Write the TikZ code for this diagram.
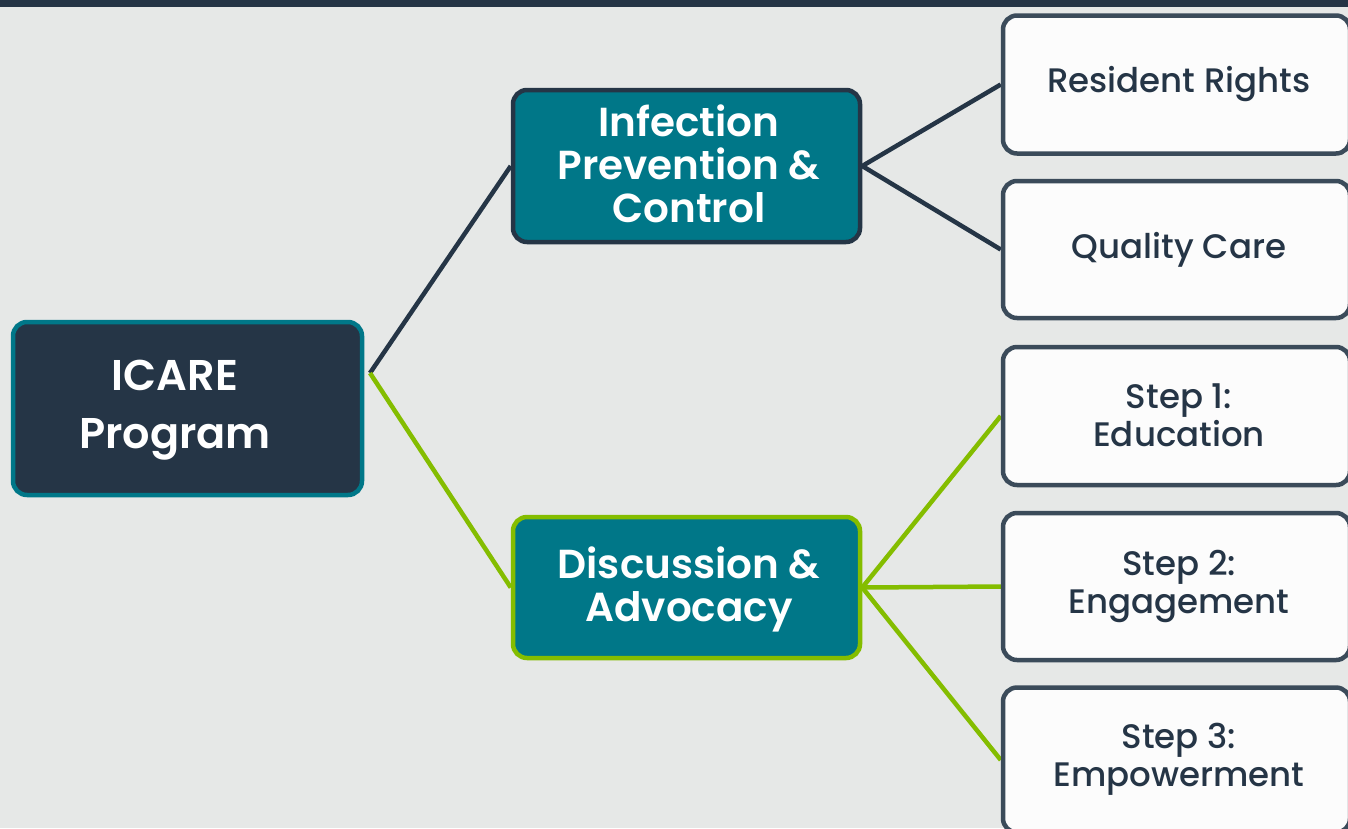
\documentclass[tikz,border=0pt]{standalone}
\usepackage{fontspec}
\setmainfont{Poppins}
\newfontfamily\medfont{Poppins Medium}
\newfontfamily\semifont{Poppins SemiBold}
\usetikzlibrary{backgrounds}
\definecolor{navy}{HTML}{253546}
\definecolor{teal}{HTML}{007788}
\definecolor{lime}{HTML}{84BD00}
\definecolor{bgc}{HTML}{E6E8E7}
\definecolor{boxw}{HTML}{FCFCFC}
\definecolor{rborder}{HTML}{3B4B5A}
\tikzset{
  base/.style={rectangle, rounded corners=14pt, line width=4.5pt, inner sep=0pt, align=center},
  rootbox/.style={base, fill=navy, draw=teal},
  midbox/.style={base, fill=teal, minimum width=347pt},
  leafbox/.style={base, fill=boxw, draw=rborder, minimum width=347pt},
  roottext/.style={text=white, font=\semifont\fontsize{43}{58}\selectfont, align=center},
  midtext/.style={text=white, font=\semifont\fontsize{40.5}{43}\selectfont, align=center},
  leaftext/.style={text=navy, font=\medfont\fontsize{34}{38}\selectfont, align=center},
  darkline/.style={draw=navy, line width=4.5pt},
  greenline/.style={draw=lime, line width=4.5pt},
}
\begin{document}
\begin{tikzpicture}[x=1pt,y=-1pt]
\useasboundingbox (0,0) rectangle (1348,828);
\clip (0,0) rectangle (1348,828);
\node[rootbox, minimum width=349pt, minimum height=173pt] (icare) at (187.5,408.5) {};
\node[roottext] (icaretext) at (175,410) {ICARE\\Program};
\node[midbox, draw=navy, minimum height=152pt] (infection) at (686.5,166) {};
\node[midtext] (infectiontext) at (689,163.5) {Infection\\Prevention \&\\Control};
\node[midbox, draw=lime, minimum height=141pt] (discussion) at (686.5,587.5) {};
\node[midtext] (discussiontext) at (689,589.5) {Discussion \&\\Advocacy};
\node[leafbox, minimum height=138pt] (rights) at (1176.5,84.5) {};
\node[leaftext] (rightstext) at (1179,84.5) {Resident Rights};
\node[leafbox, minimum height=137pt] (quality) at (1176.5,249.5) {};
\node[leaftext] (qualitytext) at (1179,249.5) {Quality Care};
\node[leafbox, minimum height=138pt] (step1) at (1176.5,416) {};
\node[leaftext] (step1text) at (1179,415) {Step 1:\\Education};
\node[leafbox, minimum height=147pt] (step2) at (1176.5,586.5) {};
\node[leaftext] (step2text) at (1179,586.5) {Step 2:\\Engagement};
\node[leafbox, minimum height=145pt] (step3) at (1176.5,760) {};
\node[leaftext] (step3text) at (1179,759) {Step 3:\\Empowerment};
\coordinate (hub) at (370,373);
\begin{scope}[on background layer]
\fill[bgc] (0,0) rectangle (1348,828);
\fill[navy] (0,0) rectangle (1348,7);
\draw[darkline] (hub) -- (infection.west);
\draw[greenline] (hub) -- (discussion.west);
\draw[darkline] (infection.east) -- (rights.west);
\draw[darkline] (infection.east) -- (quality.west);
\draw[greenline] (discussion.east) -- (step1.west);
\draw[greenline] (discussion.east) -- (step2.west);
\draw[greenline] (discussion.east) -- (step3.west);
\end{scope}
\end{tikzpicture}
\end{document}
